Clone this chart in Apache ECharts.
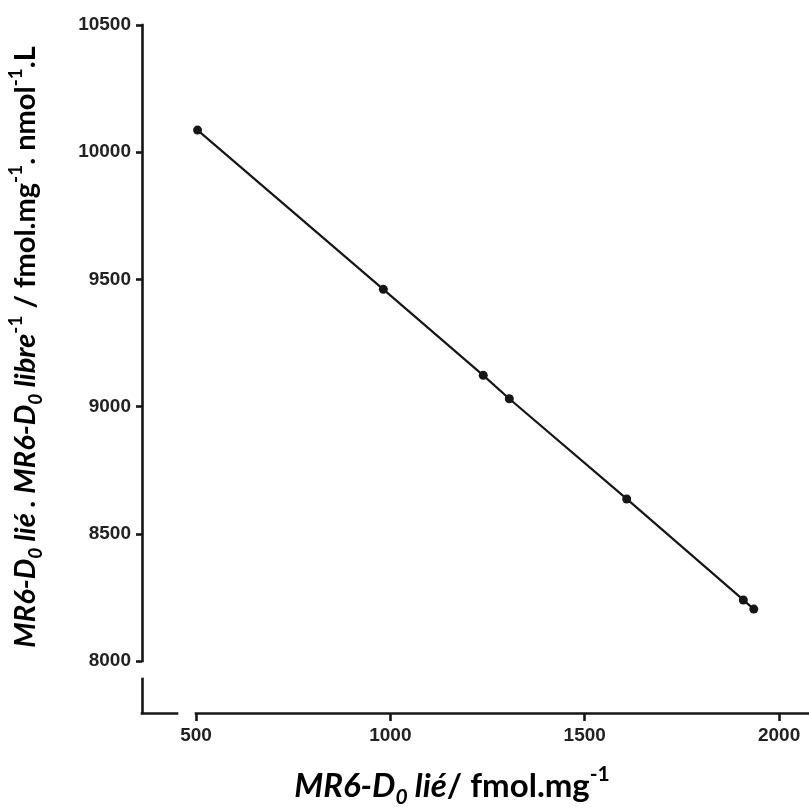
<!DOCTYPE html>
<html>
<head>
<meta charset="utf-8">
<script src="https://cdn.jsdelivr.net/npm/echarts@6/dist/echarts.min.js"></script>
<style>html,body{margin:0;padding:0;background:#fff}#c{width:809px;height:809px}</style>
</head>
<body>
<div id="c"></div>
<script>
// Data (Scatchard plot)
const boundValues = [504, 982, 1239, 1306, 1608, 1908, 1935];
const ratioValues = [10087, 9461, 9123, 9031, 8637, 8240, 8204];
const xTickValues = [500, 1000, 1500, 2000];
const yTickValues = [8000, 8500, 9000, 9500, 10000, 10500];

const INK = '#161616';
const AXW = 2.6;
const labelFont = { fontFamily: 'Liberation Sans', fontWeight: 'bold', fontSize: 19, color: '#222', formatter: v => String(v) };

const points = boundValues.map((x, i) => [x, ratioValues[i]]);

function makeRich(size, small) {
  const lh = Math.round(size * 1.33);
  return {
    i: { fontFamily: 'Lato', fontStyle: 'italic', fontWeight: 'bold', fontSize: size, lineHeight: lh, color: '#000' },
    b: { fontFamily: 'Lato', fontWeight: 'bold', fontSize: size, lineHeight: lh, color: '#000' },
    sub: { fontFamily: 'Lato', fontStyle: 'italic', fontWeight: 'bold', fontSize: small, lineHeight: small, verticalAlign: 'bottom', color: '#000' },
    sup: { fontFamily: 'Lato', fontWeight: 'bold', fontSize: small, lineHeight: small, verticalAlign: 'top', color: '#000' }
  };
}

const chart = echarts.init(document.getElementById('c'), null, { renderer: 'canvas' });
chart.setOption({
  animation: false,
  backgroundColor: '#fff',
  grid: [
    { left: 196, right: 0, top: 25, bottom: 148, containLabel: false },
    { left: 142, top: 679, width: 35, height: 34, containLabel: false }
  ],
  xAxis: [
    {
      type: 'value', gridIndex: 0, min: 500, max: 2077, offset: 52,
      axisLine: { show: true, lineStyle: { color: INK, width: AXW, cap: 'square' } },
      axisTick: { show: true, length: 8, customValues: xTickValues, lineStyle: { color: INK, width: AXW } },
      axisLabel: Object.assign({ margin: 13, customValues: xTickValues }, labelFont),
      splitLine: { show: false }
    },
    {
      type: 'value', gridIndex: 0, min: 500, max: 2077, offset: 52,
      axisLine: { show: false },
      axisTick: { show: true, inside: true, length: 6, customValues: [xTickValues[0]], lineStyle: { color: INK, width: AXW } },
      axisLabel: { show: false },
      splitLine: { show: false }
    },
    {
      type: 'value', gridIndex: 1, min: 0, max: 1,
      axisLine: { show: true, lineStyle: { color: INK, width: AXW, cap: 'square' } },
      axisTick: { show: false }, axisLabel: { show: false }, splitLine: { show: false }
    }
  ],
  yAxis: [
    {
      type: 'value', gridIndex: 0, min: 8000, max: 10500, interval: 500, offset: 54,
      axisLine: { show: true, lineStyle: { color: INK, width: AXW, cap: 'square' } },
      axisTick: { show: true, length: 6, customValues: yTickValues, lineStyle: { color: INK, width: AXW } },
      axisLabel: Object.assign({ margin: 11, customValues: yTickValues }, labelFont),
      splitLine: { show: false }
    },
    {
      type: 'value', gridIndex: 0, min: 8000, max: 10500, interval: 500, offset: 54,
      axisLine: { show: false },
      axisTick: { show: true, inside: true, length: 6, customValues: [yTickValues[0]], lineStyle: { color: INK, width: AXW } },
      axisLabel: { show: false },
      splitLine: { show: false }
    },
    {
      type: 'value', gridIndex: 1, min: 0, max: 1,
      axisLine: { show: true, lineStyle: { color: INK, width: AXW, cap: 'square' } },
      axisTick: { show: false }, axisLabel: { show: false }, splitLine: { show: false }
    }
  ],
  series: [
    {
      type: 'line', xAxisIndex: 0, yAxisIndex: 0,
      data: points,
      clip: false,
      symbol: 'circle', symbolSize: 9,
      itemStyle: { color: INK },
      lineStyle: { color: INK, width: 2.2 }
    }
  ],
  graphic: [
    {
      type: 'text', x: 452, y: 786,
      style: {
        text: '{i|MR6-D}{sub|0}{i| lié}{b|/ fmol.mg}{sup|-1}',
        rich: makeRich(33, 21), align: 'center', verticalAlign: 'middle'
      }
    },
    {
      type: 'text', x: 26, y: 347, rotation: Math.PI / 2,
      style: {
        text: '{i|MR6-D}{sub|0}{i| lié . MR6-D}{sub|0}{i| libre}{sup|-1}{b| / fmol.mg}{sup|-1}{b|. nmol}{sup|-1}{b|.L}',
        rich: makeRich(29, 19), align: 'center', verticalAlign: 'middle'
      }
    }
  ]
});
</script>
</body>
</html>
